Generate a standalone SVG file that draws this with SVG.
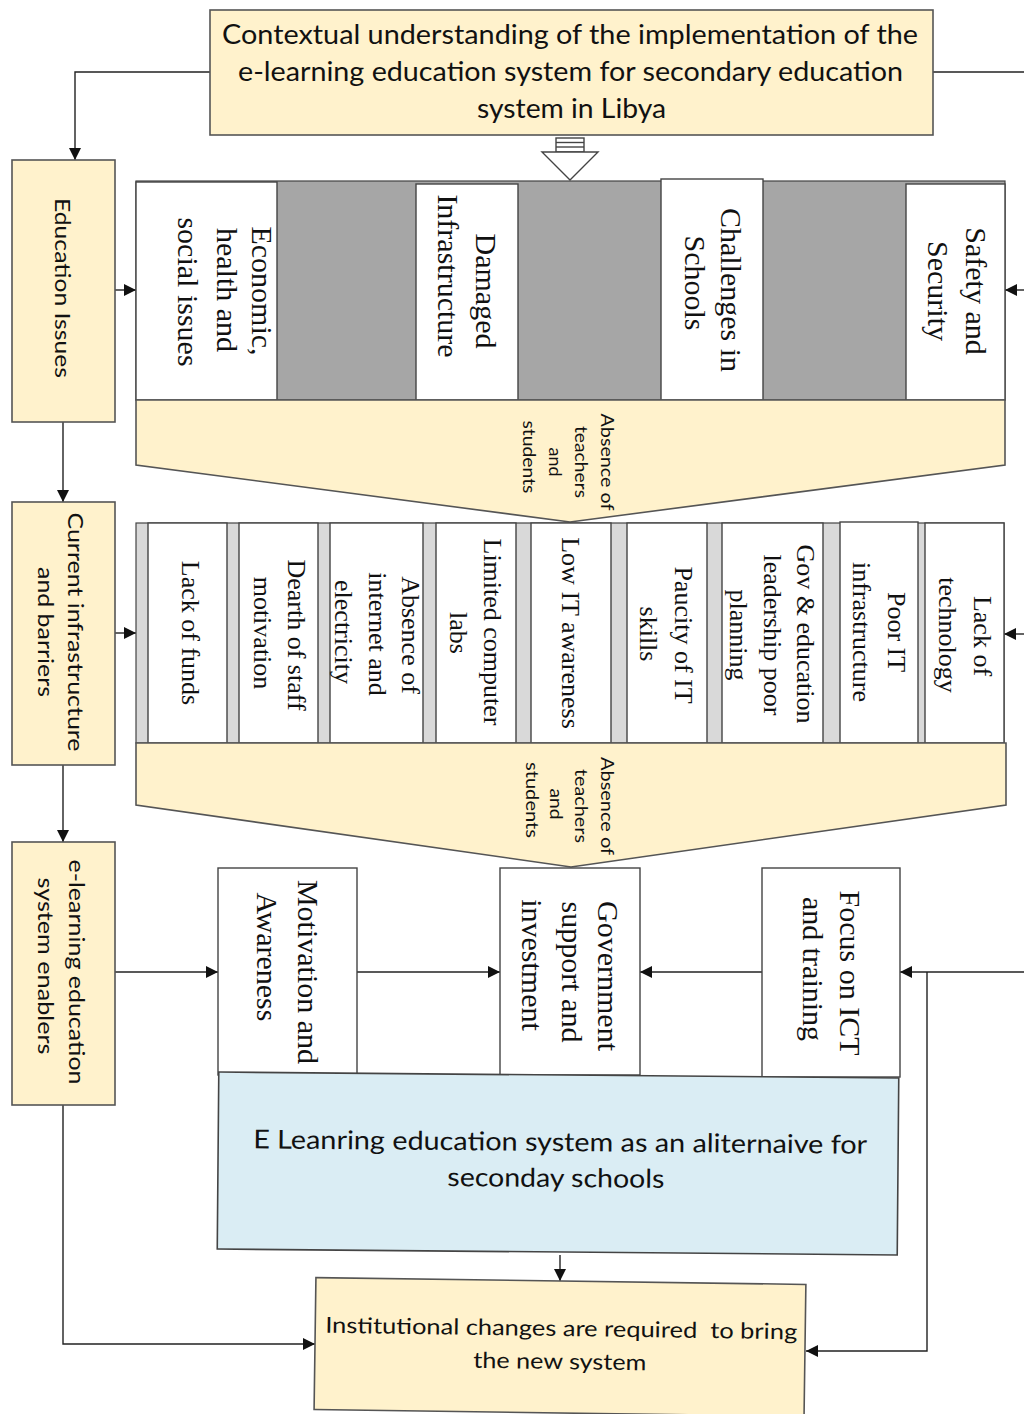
<svg xmlns="http://www.w3.org/2000/svg" width="1024" height="1414" viewBox="0 0 1024 1414">
<defs>
<style>
.cream{fill:#fff2cc;stroke:#555;stroke-width:1.6}
.wbox{fill:#fff;stroke:#444;stroke-width:1.4}
.dgray{fill:#a6a6a6;stroke:#444;stroke-width:1.2}
.lgray{fill:#d9d9d9;stroke:#444;stroke-width:1.2}
.blue{fill:#daedf4;stroke:#444;stroke-width:1.6}
.sans{font-family:Lato,"Open Sans","Liberation Sans",sans-serif;fill:#111}
.serif{font-family:"Liberation Serif","Times New Roman",serif;fill:#111}
.t26{font-size:26px}
.t22{font-size:22px}
.t18{font-size:18px}
.s30{font-size:30px}
.s26{font-size:26px}
.c{text-anchor:middle}
.conn{fill:none;stroke:#222;stroke-width:1.4}
</style>
<marker id="arr" markerUnits="userSpaceOnUse" markerWidth="13" markerHeight="13" refX="12" refY="6" orient="auto" viewBox="0 0 13 12">
<path d="M0,0 L12,6 L0,12 z" fill="#111"/>
</marker>
</defs>
<rect width="1024" height="1414" fill="#fff"/>

<g id="connectors">
<path class="conn" d="M210,72 H75 V160" marker-end="url(#arr)"/>
<path class="conn" d="M933,72 H1024"/>
<path class="conn" d="M115,290 H136" marker-end="url(#arr)"/>
<path class="conn" d="M1024,290 H1005" marker-end="url(#arr)"/>
<path class="conn" d="M63,422 V502" marker-end="url(#arr)"/>
<path class="conn" d="M115,633 H136" marker-end="url(#arr)"/>
<path class="conn" d="M1024,634 H1004" marker-end="url(#arr)"/>
<path class="conn" d="M63,765 V842" marker-end="url(#arr)"/>
<path class="conn" d="M115,972 H218" marker-end="url(#arr)"/>
<path class="conn" d="M357,972 H500" marker-end="url(#arr)"/>
<path class="conn" d="M762,972 H640" marker-end="url(#arr)"/>
<path class="conn" d="M1024,972 H900" marker-end="url(#arr)"/>
<path class="conn" d="M927,972 V1351 H806" marker-end="url(#arr)"/>
<path class="conn" d="M63,1105 V1344 H315" marker-end="url(#arr)"/>
<path class="conn" d="M560,1255 V1281" marker-end="url(#arr)"/>
</g>

<g id="context">
<rect class="cream" x="210" y="10" width="723" height="125"/>
<text class="sans t26" x="222" y="44" textLength="696" lengthAdjust="spacingAndGlyphs">Contextual understanding of the implementation of the</text>
<text class="sans t26" x="238" y="81" textLength="665" lengthAdjust="spacingAndGlyphs">e-learning education system for secondary education</text>
<text class="sans t26" x="477" y="118" textLength="189" lengthAdjust="spacingAndGlyphs">system in Libya</text>
</g>

<g id="hollow-arrow">
<rect x="556" y="138" width="28" height="14" fill="#fff" stroke="#444" stroke-width="1.4"/>
<line x1="556" y1="142.5" x2="584" y2="142.5" stroke="#444" stroke-width="1.4"/>
<line x1="556" y1="147" x2="584" y2="147" stroke="#444" stroke-width="1.4"/>
<path d="M542,152 H598 L570,180 Z" fill="#fff" stroke="#444" stroke-width="1.4"/>
</g>

<g id="education-issues">
<rect class="cream" x="12" y="160" width="103" height="262"/>
<text class="sans t22 c" transform="translate(62,288) rotate(90)" y="7.5" textLength="180" lengthAdjust="spacingAndGlyphs">Education Issues</text>
</g>

<g id="issues-panel">
<rect class="dgray" x="136" y="181" width="869" height="219"/>
<rect class="wbox" x="136" y="182" width="141" height="218"/>
<rect class="wbox" x="416" y="184" width="102" height="216"/>
<rect class="wbox" x="661" y="179" width="102" height="221"/>
<rect class="wbox" x="906" y="184" width="99" height="216"/>
<g class="serif s30 c">
<text transform="translate(262,291) rotate(90)" y="10">Economic,</text>
<text transform="translate(227,290) rotate(90)" y="10">health and</text>
<text transform="translate(188,292) rotate(90)" y="10">social issues</text>
<text transform="translate(486,291) rotate(90)" y="10">Damaged</text>
<text transform="translate(448,276) rotate(90)" y="10">Infrastructure</text>
<text transform="translate(731,290) rotate(90)" y="10">Challenges in</text>
<text transform="translate(695,283) rotate(90)" y="10">Schools</text>
<text transform="translate(976,291) rotate(90)" y="10">Safety and</text>
<text transform="translate(938,291) rotate(90)" y="10">Security</text>
</g>
</g>

<g id="chevron-1">
<path class="cream" d="M136,400 H1005 V465 L570,522 L136,465 Z"/>
<g class="sans t18 c">
<text transform="translate(607,462) rotate(90)" y="6" textLength="97" lengthAdjust="spacingAndGlyphs">Absence of</text>
<text transform="translate(581,462) rotate(90)" y="6" textLength="72" lengthAdjust="spacingAndGlyphs">teachers</text>
<text transform="translate(555,462) rotate(90)" y="6" textLength="29" lengthAdjust="spacingAndGlyphs">and</text>
<text transform="translate(529,457) rotate(90)" y="6" textLength="73" lengthAdjust="spacingAndGlyphs">students</text>
</g>
</g>

<g id="current-infrastructure">
<rect class="cream" x="12" y="502" width="103" height="263"/>
<text class="sans t22 c" transform="translate(75,632) rotate(90)" y="7.5" textLength="239" lengthAdjust="spacingAndGlyphs">Current infrastructure</text>
<text class="sans t22 c" transform="translate(45,632) rotate(90)" y="7.5" textLength="130" lengthAdjust="spacingAndGlyphs">and barriers</text>
</g>

<g id="barriers-panel">
<rect class="lgray" x="136" y="523" width="868" height="220"/>
<rect class="wbox" x="148" y="523" width="79" height="220"/>
<rect class="wbox" x="239" y="523" width="79" height="220"/>
<rect class="wbox" x="330" y="523" width="93" height="220"/>
<rect class="wbox" x="436" y="523" width="80" height="220"/>
<rect class="wbox" x="531" y="523" width="80" height="220"/>
<rect class="wbox" x="627" y="523" width="80" height="220"/>
<rect class="wbox" x="722" y="523" width="101" height="220"/>
<rect class="wbox" x="840" y="522" width="78" height="221"/>
<rect class="wbox" x="925" y="523" width="79" height="220"/>
<g class="serif s26 c">
<text transform="translate(190,633) rotate(90)" y="8.5">Lack of funds</text>
<text transform="translate(296,635) rotate(90)" y="8.5">Dearth of staff</text>
<text transform="translate(262,633) rotate(90)" y="8.5">motivation</text>
<text transform="translate(410,635) rotate(90)" y="8.5">Absence of</text>
<text transform="translate(377,634) rotate(90)" y="8.5">internet and</text>
<text transform="translate(343,632) rotate(90)" y="8.5">electricity</text>
<text transform="translate(492,632) rotate(90)" y="8.5">Limited computer</text>
<text transform="translate(458,633) rotate(90)" y="8.5">labs</text>
<text transform="translate(570,633) rotate(90)" y="8.5">Low IT awareness</text>
<text transform="translate(683,635) rotate(90)" y="8.5">Paucity of IT</text>
<text transform="translate(648,634) rotate(90)" y="8.5">skills</text>
<text transform="translate(805,634) rotate(90)" y="8.5">Gov &amp; education</text>
<text transform="translate(772,635) rotate(90)" y="8.5">leadership poor</text>
<text transform="translate(738,635) rotate(90)" y="8.5">planning</text>
<text transform="translate(896,632) rotate(90)" y="8.5">Poor IT</text>
<text transform="translate(861,632) rotate(90)" y="8.5">infrastructure</text>
<text transform="translate(982,636) rotate(90)" y="8.5">Lack of</text>
<text transform="translate(947,635) rotate(90)" y="8.5">technology</text>
</g>
</g>

<g id="chevron-2">
<path class="cream" d="M136,743 H1006 V805 L571,867 L136,805 Z"/>
<g class="sans t18 c">
<text transform="translate(607,806) rotate(90)" y="6" textLength="98" lengthAdjust="spacingAndGlyphs">Absence of</text>
<text transform="translate(581,806) rotate(90)" y="6" textLength="74" lengthAdjust="spacingAndGlyphs">teachers</text>
<text transform="translate(556,804) rotate(90)" y="6" textLength="31" lengthAdjust="spacingAndGlyphs">and</text>
<text transform="translate(532,800) rotate(90)" y="6" textLength="76" lengthAdjust="spacingAndGlyphs">students</text>
</g>
</g>

<g id="enablers">
<rect class="cream" x="12" y="842" width="103" height="263"/>
<text class="sans t22 c" transform="translate(76,972) rotate(90)" y="7.5" textLength="225" lengthAdjust="spacingAndGlyphs">e-learning education</text>
<text class="sans t22 c" transform="translate(45,966) rotate(90)" y="7.5" textLength="177" lengthAdjust="spacingAndGlyphs">system enablers</text>
</g>

<g id="motivation">
<rect class="wbox" x="218" y="868" width="139" height="207"/>
<text class="serif s30 c" transform="translate(308,972) rotate(90)" y="10">Motivation and</text>
<text class="serif s30 c" transform="translate(267,957) rotate(90)" y="10">Awareness</text>
</g>

<g id="government">
<rect class="wbox" x="500" y="868" width="140" height="207"/>
<text class="serif s30 c" transform="translate(608,976) rotate(90)" y="10">Government</text>
<text class="serif s30 c" transform="translate(572,972) rotate(90)" y="10">support and</text>
<text class="serif s30 c" transform="translate(532,965) rotate(90)" y="10">investment</text>
</g>

<g id="focus">
<rect class="wbox" x="762" y="868" width="138" height="209"/>
<text class="serif s30 c" transform="translate(850,973) rotate(90)" y="10">Focus on ICT</text>
<text class="serif s30 c" transform="translate(813,969) rotate(90)" y="10">and training</text>
</g>

<g id="elearning-system" transform="rotate(0.5 558 1164)">
<rect class="blue" x="218" y="1075" width="680" height="177"/>
<text class="sans t26 c" x="560" y="1151" textLength="614" lengthAdjust="spacingAndGlyphs">E Leanring education system as an aliternaive for</text>
<text class="sans t26 c" x="556" y="1187" textLength="217" lengthAdjust="spacingAndGlyphs">seconday schools</text>
</g>

<g id="institutional" transform="rotate(0.8 560 1346)">
<rect class="cream" x="315" y="1281" width="490" height="132"/>
<text class="sans t22 c" x="561" y="1336" textLength="472" lengthAdjust="spacingAndGlyphs" xml:space="preserve">Institutional changes are required  to bring</text>
<text class="sans t22 c" x="560" y="1369" textLength="173" lengthAdjust="spacingAndGlyphs">the new system</text>
</g>
</svg>
